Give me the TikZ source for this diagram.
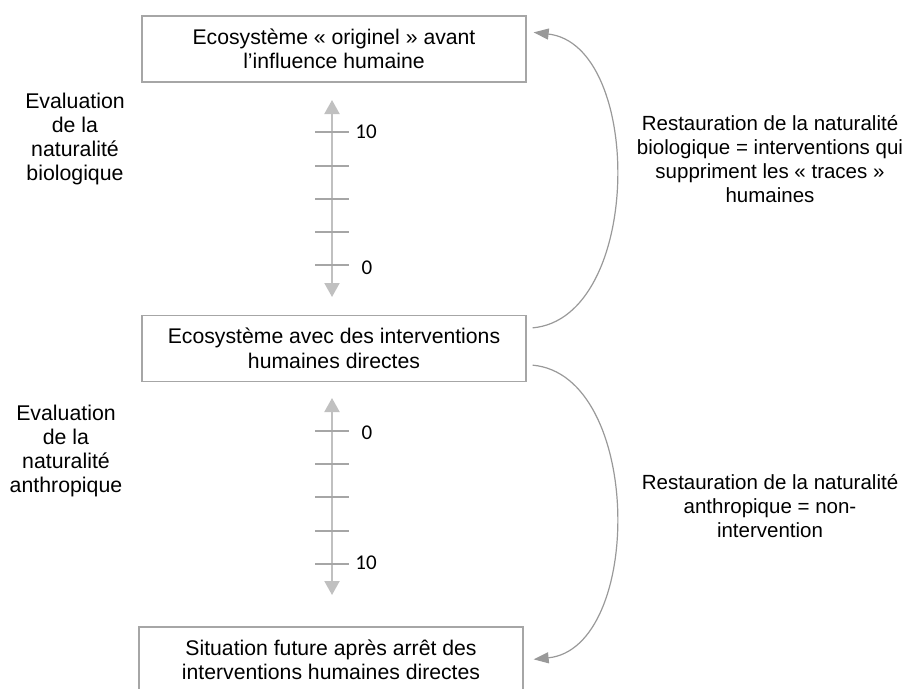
\documentclass[tikz,border=0pt]{standalone}
\usepackage{fontspec}
\setmainfont{Liberation Sans}
\newfontfamily\numfont{Carlito}
\usetikzlibrary{arrows.meta,calc}
\definecolor{boxgray}{HTML}{A6A6A6}
\definecolor{axisgray}{HTML}{C0C0C0}
\definecolor{tickgray}{HTML}{A6A6A6}
\definecolor{curvegray}{HTML}{999999}
\begin{document}
\begin{tikzpicture}[x=1pt,y=-1pt,
  every node/.style={font=\fontsize{20.5}{23.8}\selectfont, text=black, inner sep=0pt},
  box/.style={draw=boxgray, line width=1.3pt, minimum width=384pt, minimum height=66pt, align=center, font=\fontsize{21.2}{24.5}\selectfont},
  lbl/.style={align=center},
  leftlbl/.style={align=center, font=\fontsize{21.3}{23.8}\selectfont},
  axisline/.style={draw=axisgray, line width=2pt, {Triangle[length=14pt,width=15pt]}-{Triangle[length=14pt,width=15pt]}},
  tickline/.style={draw=tickgray, line width=2pt},
  num/.style={font=\numfont\fontsize{21}{24}\selectfont},
  curvearrow/.style={draw=curvegray, line width=1.2pt, -{Triangle[length=15pt,width=11pt]}}]
\useasboundingbox (0,0) rectangle (915,688);

% boxes
\node[box] (top) at (334,49) {Ecosystème « originel » avant\\l’influence humaine};
\node[box] (mid) at (334,348.5) {Ecosystème avec des interventions\\humaines directes};
\node[box] (bot) at (331,660) {Situation future après arrêt des\\interventions humaines directes};

% left labels
\node[leftlbl] (evbio) at (75,139) {Evaluation\\de la\\naturalité\\biologique};
\node[leftlbl] (evant) at (66,451) {Evaluation\\de la\\naturalité\\anthropique};

% right labels
\node[lbl] (rbio) at (770,159) {Restauration de la naturalité\\biologique = interventions qui\\suppriment les « traces »\\humaines};
\node[lbl] (rant) at (770,506) {Restauration de la naturalité\\anthropique = non-\\intervention};

% scale 1
\coordinate (s1t) at (332,100);
\coordinate (s1b) at (332,297);
\draw[axisline] (s1t) -- (s1b);
\foreach \y in {132,166,199,232,265} \draw[tickline] (315,\y) -- (349,\y);
\node[num] (n1a) at (366,132) {10};
\node[num] (n1b) at (367,268) {0};

% scale 2
\coordinate (s2t) at (332,398);
\coordinate (s2b) at (332,595);
\draw[axisline] (s2t) -- (s2b);
\foreach \y in {431,464,497,531,564} \draw[tickline] (315,\y) -- (349,\y);
\node[num] (n2a) at (367,433) {0};
\node[num] (n2b) at (366,563) {10};

% curved arrows
\coordinate (c1s) at ($(mid.north east)+(6,13)$);
\coordinate (c1e) at ($(top.north east)+(7,17)$);
\draw[curvearrow] (c1s) .. controls (643,318) and (644,45) .. (c1e);
\coordinate (c2s) at ($(mid.south east)+(6,-17)$);
\coordinate (c2e) at ($(bot.north east)+(10,33)$);
\draw[curvearrow] (c2s) .. controls (643,375) and (644,648) .. (c2e);
\end{tikzpicture}
\end{document}
